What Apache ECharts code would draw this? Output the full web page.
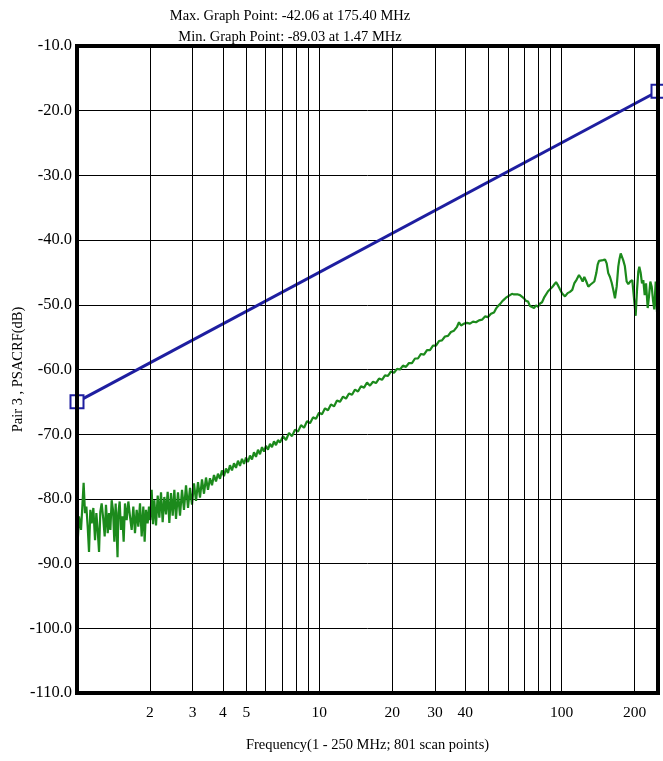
<!DOCTYPE html>
<html><head><meta charset="utf-8">
<script src="https://cdn.jsdelivr.net/npm/echarts@6/dist/echarts.min.js"></script>
<style>html,body{margin:0;padding:0;background:#fff}#c{width:663px;height:761px}</style>
</head><body><div id="c"></div>
<script>
// ---- data ----
const titleLines = ['Max. Graph Point: -42.06 at 175.40 MHz', 'Min. Graph Point: -89.03 at 1.47 MHz'];
const xAxisName = 'Frequency(1 - 250 MHz; 801 scan points)';
const yAxisName = 'Pair 3 , PSACRF(dB)';
const xGridValues = [2,3,4,5,6,7,8,9,10,20,30,40,50,60,70,80,90,100,200];
const xLabelValues = [2,3,4,5,10,20,30,40,100,200];

// limit line (freq MHz, dB)
const limitFreq = [1, 250];
const limitDb = [-65, -17];

// measured trace [freq MHz, dB]
const greenLow = [[1.000,-88.7],[1.019,-82.7],[1.039,-84.8],[1.052,-81.2],[1.065,-77.5],[1.079,-82.2],[1.093,-81.2],[1.107,-84.3],[1.121,-88.2],[1.135,-81.7],[1.150,-83.8],[1.168,-81.4],[1.187,-86.4],[1.202,-82.2],[1.217,-84.8],[1.233,-88.2],[1.248,-82.0],[1.264,-80.7],[1.285,-83.3],[1.301,-85.8],[1.317,-80.9],[1.339,-85.3],[1.355,-82.2],[1.373,-84.8],[1.390,-80.2],[1.408,-81.7],[1.426,-86.6],[1.444,-80.7],[1.470,-89.03],[1.481,-82.2],[1.500,-80.4],[1.519,-84.8],[1.539,-82.7],[1.558,-86.6],[1.578,-80.7],[1.603,-83.3],[1.629,-80.4],[1.655,-82.7],[1.681,-84.8],[1.708,-81.2],[1.735,-85.3],[1.763,-81.7],[1.791,-84.3],[1.820,-80.7],[1.849,-85.8],[1.878,-81.2],[1.902,-86.6],[1.926,-81.7],[1.957,-83.8],[1.982,-81.2],[2.007,-83.3],[2.033,-78.6],[2.059,-83.9],[2.085,-80.2],[2.119,-84.1],[2.153,-79.5],[2.187,-82.9],[2.222,-79.0],[2.257,-83.6],[2.293,-79.7],[2.330,-82.4],[2.367,-78.9],[2.405,-83.7],[2.443,-79.1],[2.483,-82.6],[2.522,-78.6]];
const greenMid1 = [[2.562,-83.1],[2.611,-79.0],[2.661,-82.6],[2.713,-78.6],[2.764,-81.7],[2.818,-77.9],[2.872,-81.4],[2.927,-78.3],[2.983,-80.9],[3.040,-77.6],[3.099,-80.3],[3.158,-77.4],[3.218,-79.8],[3.280,-77.0],[3.343,-79.2],[3.407,-76.7],[3.472,-78.6],[3.539,-76.8],[3.607,-77.9],[3.676,-76.3],[3.746,-77.3],[3.818,-76.1],[3.892,-76.9],[3.966,-75.6],[4.042,-76.5],[4.120,-75.3],[4.199,-76.0],[4.279,-74.8],[4.362,-75.6],[4.446,-74.5],[4.531,-75.2],[4.618,-74.1],[4.706,-74.9],[4.797,-73.8],[4.889,-74.6],[4.982,-73.6],[5.078,-74.3],[5.176,-73.3],[5.275,-73.9],[5.376,-72.8],[5.479,-73.5],[5.585,-72.4],[5.691,-73.1],[5.801,-72.0],[5.912,-72.7],[6.026,-71.8],[6.141,-72.4],[6.259,-71.5],[6.379,-72.0],[6.502,-71.1],[6.626,-71.7],[6.753,-70.9],[6.883,-71.3],[7.083,-70.3],[7.288,-70.9],[7.499,-69.8],[7.716,-70.3],[7.940,-69.3],[8.170,-69.6],[8.406,-68.6],[8.650,-69.0],[8.900,-68.0],[9.156,-68.3],[9.419,-67.4],[9.692,-67.6],[9.972,-66.7],[10.26,-66.9],[10.56,-66.0],[10.86,-66.3],[11.17,-65.4],[11.50,-65.7],[11.83,-64.8],[12.17,-65.0],[12.53,-64.2],[12.89,-64.5],[13.26,-63.7],[13.65,-63.9],[14.04,-63.1],[14.45,-63.4],[14.86,-62.6],[15.30,-62.8],[15.74,-62.0],[16.19,-62.5],[16.66,-61.9],[17.14,-62.1],[17.64,-61.4],[18.15,-61.6],[18.67,-60.9]];
const greenMid2 = [[19.21,-61.0],[19.77,-60.3],[20.34,-60.5],[20.93,-59.9],[21.54,-60.0],[22.15,-59.4],[22.79,-59.6],[23.45,-59.0],[24.13,-59.0],[24.83,-58.3],[25.54,-58.3],[26.28,-57.6],[27.05,-57.7],[27.83,-57.0],[28.63,-57.0],[29.46,-56.3],[30.31,-56.3],[31.19,-55.6],[32.09,-55.5],[33.02,-54.9],[33.98,-54.8],[34.95,-54.2],[35.97,-54.0],[37.01,-53.4],[37.72,-52.7],[38.45,-53.2],[39.56,-52.9],[40.71,-52.8],[41.88,-52.9],[43.10,-52.6],[44.34,-52.7],[45.62,-52.4],[46.95,-52.3],[48.30,-51.8],[49.70,-51.9],[51.12,-51.4],[52.60,-51.2],[53.61,-50.6],[54.64,-50.2],[55.69,-49.9],[56.75,-49.5],[57.84,-49.2],[58.96,-48.9],[60.09,-48.8],[61.24,-48.5],[62.42,-48.3],[63.62,-48.4],[64.84,-48.1],[66.09,-48.4],[67.36,-48.5],[68.65,-48.8],[69.98,-49.0],[71.32,-49.4],[72.69,-49.5],[74.09,-50.2],[75.51,-50.0],[76.96,-50.5],[78.44,-50.1],[79.95,-50.3],[81.48,-49.8],[83.05,-49.6],[84.65,-48.9],[86.27,-48.6],[87.93,-47.9],[89.61,-47.6],[91.33,-47.3],[93.09,-46.9],[94.88,-46.5],[96.70,-47.0],[98.49,-47.6],[100.4,-48.2],[102.3,-48.0]];
const greenHigh = [[103.3,-48.7],[105.9,-48.2],[108.3,-48.0],[110.7,-47.7],[112.8,-46.7],[115.4,-46.1],[118.0,-45.4],[120.3,-45.9],[122.2,-46.4],[124.1,-45.7],[126.5,-46.4],[128.9,-47.2],[131.4,-46.9],[133.9,-46.6],[136.5,-46.4],[139.1,-45.1],[140.9,-43.8],[142.7,-43.2],[145.4,-43.0],[148.2,-43.1],[151.1,-43.0],[153.5,-43.6],[155.8,-45.1],[158.4,-45.7],[161.0,-46.6],[163.5,-47.7],[166.1,-49.0],[168.8,-47.2],[171.4,-44.1],[173.2,-43.0],[175.4,-42.06],[179.6,-43.1],[182.4,-44.0],[185.6,-46.4],[188.5,-46.8],[192.1,-46.4],[195.8,-46.2],[199.0,-46.4],[202.2,-51.7],[204.8,-47.7],[207.3,-44.9],[209.3,-44.1],[212.1,-45.1],[214.7,-46.7],[217.4,-46.2],[220.3,-48.5],[223.1,-46.7],[226.7,-50.5],[229.5,-48.7],[232.4,-46.4],[235.5,-47.2],[238.4,-49.3],[241.3,-50.7],[244.6,-46.4],[247.6,-51.1],[250,-46.4]];

// ---- chart ----
const FONT = 'Liberation Serif';
const greenData = greenLow.concat(greenMid1, greenMid2, greenHigh);
const limitData = limitFreq.map((f, i) => [f, limitDb[i]]);

const chart = echarts.init(document.getElementById('c'), null, {renderer: 'canvas'});
chart.setOption({
  animation: false,
  backgroundColor: '#fff',
  graphic: titleLines.map((t, i) => ({
    type: 'text', x: 290, y: 9 + i * 21,
    style: {text: t, textAlign: 'center', textVerticalAlign: 'top', font: '14.5px "' + FONT + '"', fill: '#000'}
  })),
  grid: {left: 77, top: 46, right: 5, bottom: 68, show: true, borderColor: '#000', borderWidth: 4, backgroundColor: 'transparent', z: 5, containLabel: false, outerBoundsMode: 'none'},
  xAxis: {
    type: 'log', logBase: 10, min: 1, max: 250,
    axisLine: {show: false}, axisTick: {show: false}, axisLabel: {show: false}, splitLine: {show: false}, minorSplitLine: {show: false},
    name: xAxisName, nameLocation: 'middle', nameGap: 45, nameMoveOverlap: false,
    nameTextStyle: {fontFamily: FONT, fontSize: 14.5, color: '#000'}
  },
  yAxis: {
    type: 'value', min: -110, max: -10, interval: 10,
    axisLine: {show: false}, axisTick: {show: false},
    axisLabel: {formatter: v => v.toFixed(1), fontFamily: FONT, fontSize: 16.5, color: '#000', margin: 5},
    splitLine: {show: true, lineStyle: {color: '#000', width: 1}},
    name: yAxisName, nameLocation: 'middle', nameGap: 51, nameRotate: 90, nameMoveOverlap: false,
    nameTextStyle: {fontFamily: FONT, fontSize: 14.5, color: '#000'}
  },
  series: [
    {
      type: 'line', data: [], silent: true, z: 1,
      markLine: {
        silent: true, symbol: ['none', 'none'], animation: false,
        lineStyle: {color: '#000', width: 1, type: 'solid'},
        label: {show: false},
        emphasis: {disabled: true},
        data: xGridValues.map(v => ({
          xAxis: v,
          label: xLabelValues.indexOf(v) >= 0
            ? {show: true, position: 'start', distance: 12, formatter: String(v), fontFamily: FONT, fontSize: 15.5, color: '#000'}
            : {show: false}
        }))
      }
    },
    {
      type: 'line', data: greenData, showSymbol: false, symbol: 'none', z: 3,
      lineStyle: {color: '#1c8a1c', width: 2.2}, silent: true
    },
    {
      type: 'line', data: limitData, z: 4, clip: false,
      symbol: 'emptyRect', symbolSize: 13, showSymbol: true,
      itemStyle: {color: '#1e1ea0', borderWidth: 2.5},
      lineStyle: {color: '#1e1ea0', width: 3}, silent: true
    }
  ]
});
</script></body></html>
